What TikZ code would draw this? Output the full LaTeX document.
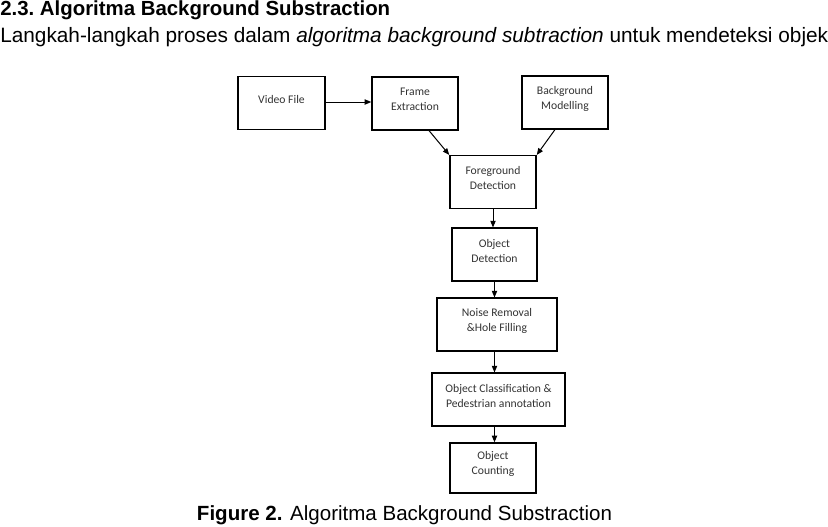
\documentclass[tikz,border=0pt]{standalone}
\usepackage{fontspec}
\setmainfont{Liberation Sans}
\newfontfamily\boxfont{Carlito}
\usetikzlibrary{arrows.meta}

\begin{document}
\begin{tikzpicture}[x=0.75pt,y=-0.75pt,>={Triangle[length=5pt,width=4pt]},
  box/.style={shape=rectangle,draw,line width=1.1pt,inner sep=0pt,minimum height=39.5pt},
  boxtext/.style={align=center,inner sep=0pt,yshift=3pt,text=black!80,
    font=\boxfont\fontsize{8.75pt}{11.25pt}\selectfont},
  flow/.style={->,line width=0.75pt}]
\useasboundingbox (0,0) rectangle (828,526);
\node (head)  at (0,15)      [anchor=base west,inner sep=0pt,font=\fontsize{15.3pt}{18pt}\selectfont\bfseries] {2.3.\ Algoritma Background Substraction};
\node (intro) at (0,42)      [anchor=base west,inner sep=0pt,font=\fontsize{15.6pt}{18pt}\selectfont] {Langkah-langkah proses dalam \textit{algoritma background subtraction} untuk mendeteksi objek};
\node (video) at (281.5,103) [box,minimum width=65.25pt,label={[boxtext]center:Video File}] {};
\node (frame) at (415,103.5) [box,minimum width=64.5pt,label={[boxtext]center:{Frame\\Extraction}}] {};
\node (bgmod) at (565,102.5) [box,minimum width=64.5pt,label={[boxtext]center:{Background\\Modelling}}] {};
\node (fgdet) at (493,182)   [box,minimum width=64.5pt,label={[boxtext]center:{Foreground\\Detection}}] {};
\node (objdet) at (494.5,254.5) [box,minimum width=63.75pt,label={[boxtext]center:{Object\\Detection}}] {};
\node (noise) at (497,324.5) [box,minimum width=90pt,label={[boxtext]center:{Noise Removal\\\&Hole Filling}}] {};
\node (classif) at (498.5,399.5) [box,minimum width=99.75pt,label={[boxtext]center:{Object Classification \&\\Pedestrian annotation}}] {};
\node (count) at (493,468)   [box,minimum width=64.5pt,minimum height=37.5pt,label={[boxtext]center:{Object\\Counting}}] {};
\node (cap)   at (404.5,520) [anchor=base,inner sep=0pt,font=\fontsize{15.4pt}{18pt}\selectfont] {\textbf{Figure 2.} Algoritma Background Substraction};
\draw [flow] (video.east |- 0,102) -- (frame.west |- 0,102);
\draw [flow] ([xshift=10.5pt]frame.south) -- (fgdet.north west);
\draw [flow] ([xshift=-7.5pt]bgmod.south) -- (fgdet.north east);
\draw [flow] (fgdet.south) -- (fgdet.south |- objdet.north);
\draw [flow] (objdet.south) -- (objdet.south |- noise.north);
\draw [flow] (objdet.south |- noise.south) -- (objdet.south |- classif.north);
\draw [flow] (objdet.south |- classif.south) -- (objdet.south |- count.north);
\end{tikzpicture}
\end{document}
